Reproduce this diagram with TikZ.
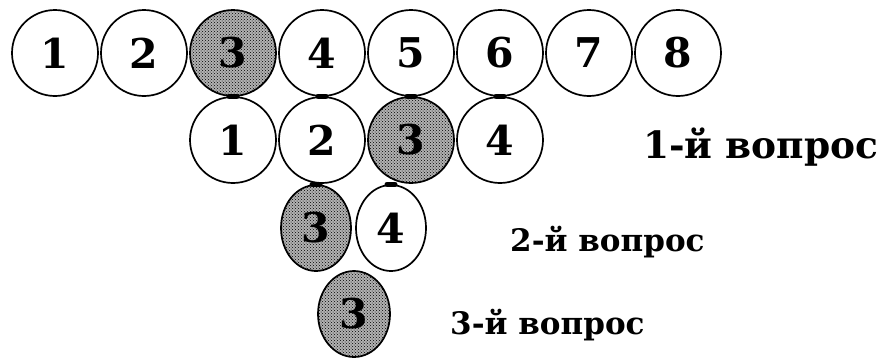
\documentclass[tikz,border=0pt]{standalone}
\usepackage{fontspec}
\setmainfont{DejaVu Serif}
\usetikzlibrary{shapes.geometric, patterns, positioning}
\newcommand{\ballfont}{\fontsize{41}{44}\selectfont\bfseries}
\newcommand{\lblfont}{\fontsize{37.5}{40}\selectfont\bfseries}
\newcommand{\smlblfont}{\fontsize{31}{34}\selectfont\bfseries}
\tikzset{
  ball/.style  = {circle, draw, line width=1.7pt, minimum size=86pt,
                  inner sep=0pt, font=\ballfont},
  oval/.style  = {ellipse, draw, line width=1.7pt, minimum width=70pt,
                  minimum height=86pt, inner sep=0pt, font=\ballfont},
  hit/.style   = {fill=black!30,
                  postaction={pattern=crosshatch dots, pattern color=black}},
  lbl/.style   = {anchor=west, font=\lblfont, inner sep=0pt},
  joint/.style = {line width=5pt, line cap=round},
}
\begin{document}
\begin{tikzpicture}[x=1pt, y=-1pt]
  \useasboundingbox (0,0) rectangle (883,357);
  % top row: eight balls
  \foreach \i in {1,...,8} {
    \ifnum\i=3
      \node[ball, hit] (t\i) at ({55+89*(\i-1)},53) {\i};
    \else
      \node[ball] (t\i) at ({55+89*(\i-1)},53) {\i};
    \fi
  }
  % 1st question
  \foreach \i in {1,...,4} {
    \ifnum\i=3
      \node[ball, hit] (q\i) at ({233+89*(\i-1)},140) {\i};
    \else
      \node[ball] (q\i) at ({233+89*(\i-1)},140) {\i};
    \fi
  }
  % 2nd question
  \node[oval, hit] (r3) at (316,228) {3};
  \node[oval]      (r4) at (391,228) {4};
  % 3rd question
  \node[oval, hit, minimum width=72pt] (s3) at (354,314) {3};
  % touching points
  \foreach \n in {q1, q2, q3, q4, r3, r4}
    \draw[joint] ([xshift=-4pt]\n.north) -- ([xshift=4pt]\n.north);
  % labels
  \node[lbl] (l1) at (643,147) {1-й вопрос};
  \node[lbl, font=\smlblfont] (l2) at (510,242) {2-й вопрос};
  \node[lbl, font=\smlblfont] (l3) at (450,325) {3-й вопрос};
\end{tikzpicture}
\end{document}
